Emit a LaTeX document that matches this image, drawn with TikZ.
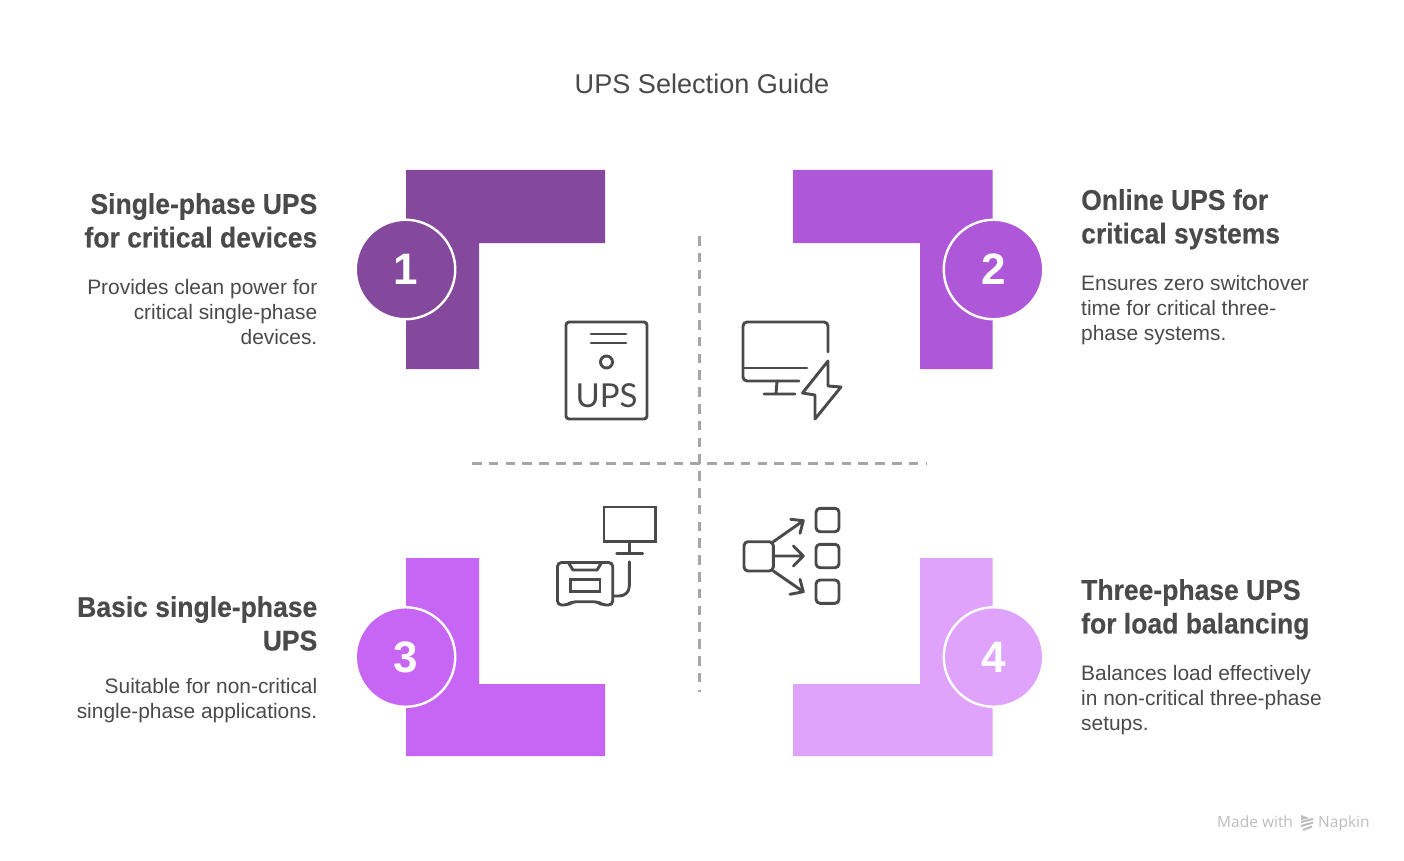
\documentclass[tikz,border=0pt]{standalone}
\usepackage{fontspec}
\setmainfont{Liberation Sans}
\newfontfamily\headfont[FakeStretch=0.93,BoldFeatures={FakeStretch=0.93,FakeBold=0.35}]{Liberation Sans}
\newfontfamily\thinfont{Lato}
\newfontfamily\footfont{Open Sans}
\definecolor{cA}{HTML}{84489C}
\definecolor{cB}{HTML}{AE57D8}
\definecolor{cC}{HTML}{C766F4}
\definecolor{cD}{HTML}{E0A3FC}
\definecolor{ink}{HTML}{4A4A4A}
\definecolor{dashc}{HTML}{A6A6A6}
\definecolor{foot}{HTML}{BDBDBD}
\tikzset{
  x=1pt,y=-1pt,
  badge/.style={circle,draw=white,line width=2.4pt,minimum size=99.5pt,inner sep=0pt,text=white,font=\fontsize{44}{44}\selectfont\bfseries},
  headL/.style={anchor=north east,align=right,inner sep=0pt,text=ink,font=\headfont\fontsize{28.5}{33.6}\selectfont\bfseries},
  headR/.style={anchor=north west,align=left,inner sep=0pt,text=ink,font=\headfont\fontsize{28.5}{33.6}\selectfont\bfseries},
  bodyL/.style={anchor=north east,align=right,inner sep=0pt,text=ink,font=\fontsize{20.9}{25.3}\selectfont},
  bodyR/.style={anchor=north west,align=left,inner sep=0pt,text=ink,font=\fontsize{20.9}{25.3}\selectfont},
  guide/.style={draw=dashc,line width=3pt,dash pattern=on 9.5pt off 7.3pt},
  icon/.style={draw=ink,line width=2.9pt,line cap=round,line join=round},
}
\begin{document}
\begin{tikzpicture}
\useasboundingbox (0,0) rectangle (1404,861);
\fill[white] (0,0) rectangle (1404,861);
\node[text=ink,font=\fontsize{27.1}{33}\selectfont] (title) at (702,84) {UPS Selection Guide};
% corner bands
\fill[cA] (406,170) -- (605,170) -- (605,243) -- (479,243) -- (479,369) -- (406,369) -- cycle;
\fill[cB] (793,170) -- (992.5,170) -- (992.5,369) -- (920,369) -- (920,243) -- (793,243) -- cycle;
\fill[cC] (406,558) -- (479,558) -- (479,684) -- (605,684) -- (605,756) -- (406,756) -- cycle;
\fill[cD] (920,558) -- (992.5,558) -- (992.5,756) -- (793,756) -- (793,684) -- (920,684) -- cycle;
\node[badge,fill=cA] (n1) at (405.5,269.5) {1};
\node[badge,fill=cB] (n2) at (993.5,269.5) {2};
\node[badge,fill=cC] (n3) at (405.5,657) {3};
\node[badge,fill=cD] (n4) at (993.5,657) {4};
% guides
\coordinate (vt) at (699,236); \coordinate (vb) at (699,692);
\coordinate (hl) at (472,463); \coordinate (hr) at (927,463);
\draw[guide] (vt) -- (vb);
\draw[guide] (hl) -- (hr);
% texts
\node[headL] (h1) at (317.5,193) {Single-phase UPS\\for critical devices};
\node[bodyL] (b1) at (317.5,279) {Provides clean power for\\critical single-phase\\devices.};
\node[headR] (h2) at (1081,189) {Online UPS for\\critical systems};
\node[bodyR] (b2) at (1081,275) {Ensures zero switchover\\time for critical three-\\phase systems.};
\node[headL] (h3) at (317.5,596) {Basic single-phase\\UPS};
\node[bodyL] (b3) at (317.5,678) {Suitable for non-critical\\single-phase applications.};
\node[headR] (h4) at (1081,579) {Three-phase UPS\\for load balancing};
\node[bodyR] (b4) at (1081,665) {Balances load effectively\\in non-critical three-phase\\setups.};
% icon 1: UPS
\draw[icon,rounded corners=3pt] (566,322) rectangle (647,419);
\draw[icon] (591,334) -- (626,334) (591,343) -- (626,343);
\draw[icon] (606.5,362) circle (6);
\node[text=ink,font=\thinfont\fontsize{33}{33}\selectfont,inner sep=0pt] (upsl) at (606.5,396) {UPS};
% icon 2: monitor + bolt
\draw[icon,rounded corners=4pt] (828,352) -- (828,322) -- (743,322) -- (743,381) -- (799,381);
\draw[icon] (743,368) -- (807,368);
\draw[icon] (777,381) -- (776,394) (764,394) -- (795,394);
\draw[icon] (828,361) -- (802.5,393) -- (815,395) -- (815,419) -- (841,387) -- (828,386) -- cycle;
% icon 3: monitor + power station
\draw[icon,line cap=butt,line join=miter] (604,507) rectangle (655.7,541.7);
\draw[icon] (629.3,541.7) -- (629.3,553.5) (616.7,553.5) -- (642.7,553.5);
\draw[icon] (629.3,561.7) -- (629.3,586) .. controls (629.3,592) and (625,596) .. (619,596) -- (613,596);
\draw[icon,rounded corners=4pt] (568.3,562.5) -- (557.5,562.5) -- (557.5,605) -- (568,605) -- (572,601.7) -- (598,601.7) -- (602,605) -- (612.7,605) -- (612.7,562.5) -- cycle;
\draw[icon] (568.3,562.5) -- (573,570) -- (597,570) -- (601.7,562.5);
\draw[icon,line cap=butt,line join=miter] (570.7,579.3) rectangle (600,591.7);
% icon 4: distribution
\draw[icon,rounded corners=4pt] (744,541.7) rectangle (773.3,571);
\draw[icon,rounded corners=4pt] (816,508.3) rectangle (839,531.7);
\draw[icon,rounded corners=4pt] (816,544.3) rectangle (839,567.7);
\draw[icon,rounded corners=4pt] (816,580) rectangle (839,603.3);
\draw[icon] (773.3,541.7) -- (803.3,520.7) (790.7,519.3) -- (803.3,520.7) -- (800,533.3);
\draw[icon] (773.3,556) -- (803.3,556) (793.3,546) -- (803.3,556) -- (793.3,566);
\draw[icon] (773.3,571) -- (803.3,591.7) (790,594.3) -- (803.3,591.7) -- (800,579.3);
% footer
\node[anchor=base west,inner sep=0pt,text=foot,font=\footfont\fontsize{15.5}{16}\selectfont] (made) at (1217,827.5) {Made with};
\node[anchor=base west,inner sep=0pt,text=foot,font=\footfont\fontsize{15.5}{16}\selectfont] (napkin) at (1318,827.5) {Napkin};
\fill[foot] (1301,815) -- (1309,818) -- (1301,820) -- cycle;
\draw[foot,line width=2pt] (1301,822) -- (1313,819) (1301,826) -- (1313,822.5) (1303,830) -- (1312,826.5);
\end{tikzpicture}
\end{document}
